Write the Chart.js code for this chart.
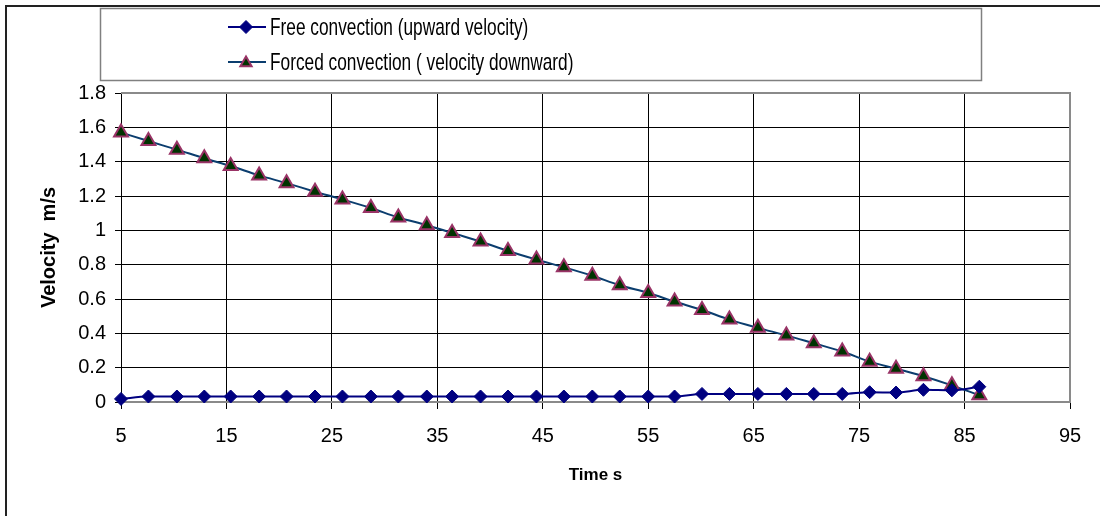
<!DOCTYPE html>
<html>
<head>
<meta charset="utf-8">
<title>Velocity vs time</title>
<script src="https://cdn.jsdelivr.net/npm/chart.js@4/dist/chart.umd.min.js"></script>
<style>
  html, body { margin: 0; padding: 0; background: #fff; }
  #wrap { width: 1100px; height: 516px; }
</style>
</head>
<body>
<div id="wrap"><canvas id="velocity-chart" width="1100" height="516"></canvas></div>
<script>
var timeS = [5, 7.6, 10.3, 12.9, 15.4, 18.1, 20.7, 23.4, 26.0, 28.7, 31.3, 34.0, 36.4, 39.1, 41.7, 44.4,
             47.0, 49.7, 52.3, 55.0, 57.5, 60.1, 62.7, 65.4, 68.1, 70.7, 73.4, 76.0, 78.5, 81.1, 83.8, 86.4];
var freeVelocity = [0.018, 0.032, 0.032, 0.032, 0.032, 0.032, 0.032, 0.032, 0.032, 0.032, 0.032, 0.032,
                    0.032, 0.032, 0.032, 0.032, 0.032, 0.032, 0.032, 0.032, 0.032, 0.047, 0.047, 0.047,
                    0.047, 0.047, 0.047, 0.057, 0.055, 0.071, 0.068, 0.089];
var forcedVelocity = [1.57, 1.52, 1.47, 1.42, 1.375, 1.32, 1.275, 1.225, 1.18, 1.13, 1.075, 1.03,
                      0.985, 0.935, 0.88, 0.83, 0.785, 0.735, 0.68, 0.635, 0.585, 0.536, 0.48, 0.432,
                      0.388, 0.342, 0.294, 0.235, 0.194, 0.15, 0.097, 0.04];
var seriesNames = ['Free convection (upward velocity)', 'Forced convection ( velocity downward)'];
var xTicks = [5, 95, 10];       // min, max, step
var yTicks = [0, 1.8, 0.2];

var FONT = "'Liberation Sans', Arial, sans-serif";

function toPoints(ys) {
    return timeS.map(function (t, i) { return { x: t, y: ys[i] }; });
}

var freeStyle = { pointStyle: 'rectRot', radius: 6.5, fill: '#000080', border: '#000080', borderWidth: 1, line: '#000080' };
var forcedStyle = { pointStyle: 'triangle', radius: 8, fill: '#003300', border: '#993366', borderWidth: 2, line: '#0b3d6e' };

// outer frame, plot frame and the boxed legend
var decorations = {
    id: 'decorations',
    beforeDraw: function (chart) {
        var ctx = chart.ctx;
        ctx.save();
        ctx.strokeStyle = '#222';
        ctx.lineWidth = 2;
        ctx.strokeRect(6, 6, 1200, 600);
        ctx.restore();
    },
    beforeDatasetsDraw: function (chart) {
        var ctx = chart.ctx, a = chart.chartArea;
        ctx.save();
        ctx.strokeStyle = '#8a8a8a';
        ctx.lineWidth = 2;
        ctx.beginPath();
        ctx.moveTo(a.left, a.top);
        ctx.lineTo(a.right, a.top);
        ctx.lineTo(a.right, a.bottom);
        ctx.lineTo(a.left, a.bottom);
        ctx.stroke();
        ctx.restore();
    },
    afterDraw: function (chart) {
        var ctx = chart.ctx;
        ctx.save();
        ctx.fillStyle = '#fff';
        ctx.fillRect(100, 8, 882, 73);
        ctx.strokeStyle = '#808080';
        ctx.lineWidth = 1.5;
        ctx.strokeRect(100.5, 8.5, 881, 72);

        var styles = [freeStyle, forcedStyle];
        var rows = [27, 62];
        for (var i = 0; i < styles.length; i++) {
            var s = styles[i], y = rows[i];
            ctx.strokeStyle = s.line;
            ctx.lineWidth = 2;
            ctx.beginPath();
            ctx.moveTo(228, y);
            ctx.lineTo(266, y);
            ctx.stroke();

            ctx.fillStyle = s.fill;
            ctx.strokeStyle = s.border;
            ctx.lineWidth = s.borderWidth;
            Chart.helpers.drawPoint(ctx, { pointStyle: s.pointStyle, radius: 6.5, rotation: 0, borderWidth: s.borderWidth }, 246, y + (s.pointStyle === 'triangle' ? 1 : 0));

            ctx.save();
            ctx.translate(270, y);
            ctx.scale(0.72, 1);
            ctx.fillStyle = '#000';
            ctx.font = '24px ' + FONT;
            ctx.textBaseline = 'middle';
            ctx.fillText(seriesNames[i], 0, 1);
            ctx.restore();
        }
        ctx.restore();
    }
};

var ctx = document.getElementById('velocity-chart').getContext('2d');
var chart = new Chart(ctx, {
    type: 'line',
    data: {
        datasets: [{
            label: seriesNames[0],
            data: toPoints(freeVelocity),
            borderColor: freeStyle.line,
            borderWidth: 2,
            pointStyle: freeStyle.pointStyle,
            pointRadius: freeStyle.radius,
            pointBackgroundColor: freeStyle.fill,
            pointBorderColor: freeStyle.border,
            pointBorderWidth: freeStyle.borderWidth,
            cubicInterpolationMode: 'monotone',
            clip: false
        }, {
            label: seriesNames[1],
            data: toPoints(forcedVelocity),
            borderColor: forcedStyle.line,
            borderWidth: 2,
            pointStyle: forcedStyle.pointStyle,
            pointRadius: forcedStyle.radius,
            pointBackgroundColor: forcedStyle.fill,
            pointBorderColor: forcedStyle.border,
            pointBorderWidth: forcedStyle.borderWidth,
            cubicInterpolationMode: 'monotone',
            clip: false
        }]
    },
    options: {
        responsive: false,
        maintainAspectRatio: false,
        animation: false,
        layout: { padding: { left: 0, right: 30, top: 93, bottom: 0 } },
        plugins: {
            legend: { display: false },
            tooltip: { enabled: false }
        },
        scales: {
            x: {
                type: 'linear',
                min: xTicks[0],
                max: xTicks[1],
                afterFit: function (scale) { scale.height = 114; },
                ticks: {
                    stepSize: xTicks[2],
                    color: '#000',
                    padding: 15,
                    maxRotation: 0,
                    font: { family: FONT, size: 20 }
                },
                grid: { color: '#000', lineWidth: 1, tickLength: 7, tickColor: '#000' },
                border: { color: '#8a8a8a', width: 1 },
                title: {
                    display: true,
                    text: 'Time s',
                    color: '#000',
                    font: { family: FONT, size: 17, weight: 'bold' },
                    padding: { top: 0, bottom: 30 }
                }
            },
            y: {
                min: yTicks[0],
                max: yTicks[1],
                afterFit: function (scale) { scale.width = 121; },
                ticks: {
                    stepSize: yTicks[2],
                    color: '#000',
                    padding: 9,
                    font: { family: FONT, size: 20 },
                    callback: function (v) { return String(+v.toFixed(1)); }
                },
                grid: { color: '#000', lineWidth: 1, tickLength: 6, tickColor: '#000' },
                border: { color: '#000', width: 1 },
                title: {
                    display: true,
                    text: 'Velocity  m/s',
                    color: '#000',
                    font: { family: FONT, size: 20, weight: 'bold' },
                    padding: { top: 37, bottom: 0 }
                }
            }
        }
    },
    plugins: [decorations]
});
</script>
</body>
</html>
